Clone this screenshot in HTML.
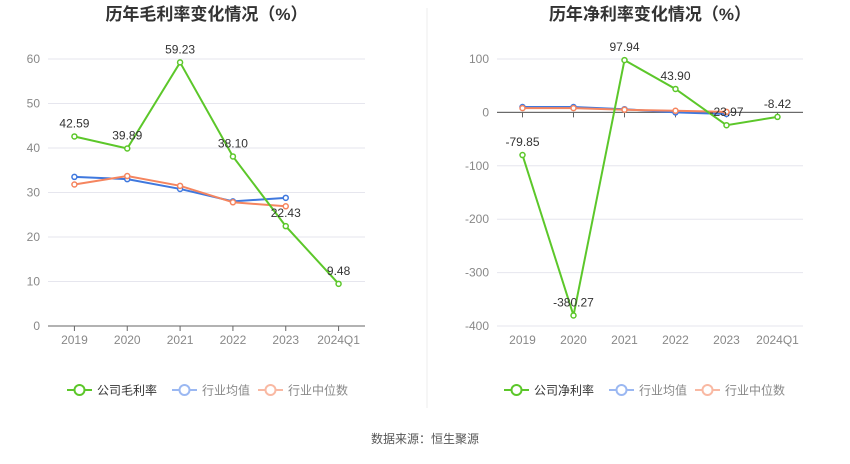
<!DOCTYPE html>
<html><head><meta charset="utf-8">
<style>
body{margin:0;background:#fff;width:850px;height:459px;overflow:hidden;font-family:"Liberation Sans","Noto Sans CJK SC",sans-serif}
svg text{font-family:"Liberation Sans","Noto Sans CJK SC",sans-serif}
</style></head>
<body>
<svg id="c" width="850" height="459">
<line x1="427" y1="8" x2="427" y2="408" stroke="#eee"/>
<text x="425" y="443" font-size="12" fill="#555" text-anchor="middle">数据来源：恒生聚源</text>
</svg>
<script>
const categories=["2019","2020","2021","2022","2023","2024Q1"];
const grossCompany=[42.59,39.89,59.23,38.10,22.43,9.48];
const grossAvg=[33.5,33.0,30.8,28.0,28.8];
const grossMedian=[31.8,33.7,31.5,27.8,26.9];
const grossTicks=[0,10,20,30,40,50,60];
const netCompany=[-79.85,-380.27,97.94,43.90,-23.97,-8.42];
const netAvg=[10,10,6,0,-3];
const netMedian=[8,8,5,3,1];
const netTicks=[-400,-300,-200,-100,0,100];
const NS="http://www.w3.org/2000/svg";
const svg=document.getElementById('c');
function mk(tag,attrs,parent){const e=document.createElementNS(NS,tag);for(const k in attrs)e.setAttribute(k,attrs[k]);(parent||svg).appendChild(e);return e;}
function panel(o){
  const g=mk('g',{});
  
  
  const y=v=>o.y0+(v-o.min)/(o.max-o.min)*(o.y1-o.y0);
  const bw=(o.x1-o.x0)/categories.length;
  const x=i=>o.x0+bw*(i+0.5);
  const t=mk('text',{x:(o.x0+o.x1)/2,y:20,'font-size':17,'font-weight':'bold',fill:'#333','text-anchor':'middle'},g);t.textContent=o.title;
  
  
  o.ticks.forEach(v=>{
    const l=mk('line',{x1:o.x0,x2:o.x1,y1:y(v),y2:y(v),stroke:v===0&&o.zeroAxis?'#666':'#e6e6ee'},g);
    
    
    const tt=mk('text',{x:o.x0-8,y:y(v)+4,'font-size':12,fill:'#888','text-anchor':'end'},g);tt.textContent=v;
    
    
  });
  const ay=o.zeroAxis?y(0):y(o.min);
  const ax=mk('line',{x1:o.x0,x2:o.x1,y1:ay,y2:ay,stroke:'#666'},g);
  
  
  categories.forEach((c,i)=>{
    const tk=mk('line',{x1:x(i),x2:x(i),y1:ay,y2:ay+5,stroke:'#666'},g);
    
    
    const tl=mk('text',{x:x(i),y:y(o.min)+18,'font-size':12,fill:'#888','text-anchor':'middle'},g);tl.textContent=c;
    
    
  });
  function series(vals,color,name,labels){
    const pts=vals.map((v,i)=>x(i)+','+y(v)).join(' ');
    const pl=mk('polyline',{points:pts,fill:'none',stroke:color,'stroke-width':2},g);
    
    
    vals.forEach((v,i)=>{
      const p=mk('circle',{cx:x(i),cy:y(v),r:2.5,fill:'#fff',stroke:color,'stroke-width':1.5},g);
      
      
      if(labels){const lt=mk('text',{x:x(i),y:y(v)-9,'font-size':12,fill:'#333','text-anchor':'middle'},g);lt.textContent=v.toFixed(2);
        
        }
    });
  }
  series(o.avg,'#3f78de','industry-average',false);
  series(o.median,'#f5855f','industry-median',false);
  series(o.company,'#5cc72a','company',true);
  const lx=o.lx,ly=390;
  [[o.legend,'#5cc72a','#333',0],['行业均值','#9bb8f2','#888',o.lg1],['行业中位数','#f9b9a3','#888',o.lg2]].forEach((it,k)=>{
    const lg=mk('g',{},g);
    
    
    const bx=lx+it[3];
    mk('line',{x1:bx,x2:bx+25,y1:ly,y2:ly,stroke:it[1],'stroke-width':2},lg);
    mk('circle',{cx:bx+12.5,cy:ly,r:5,fill:'#fff',stroke:it[1],'stroke-width':2},lg);
    const tx=mk('text',{x:bx+30,y:ly+4.5,'font-size':12,fill:it[2]},lg);tx.textContent=it[0];
  });
}
panel({name:'gross-margin-chart',title:'历年毛利率变化情况（%）',x0:48,x1:365,y0:326,y1:59,min:0,max:60,ticks:grossTicks,company:grossCompany,avg:grossAvg,median:grossMedian,zeroAxis:false,legend:'公司毛利率',lx:67,lg1:105,lg2:191});
panel({name:'net-margin-chart',title:'历年净利率变化情况（%）',x0:497,x1:803,y0:326,y1:59,min:-400,max:100,ticks:netTicks,company:netCompany,avg:netAvg,median:netMedian,zeroAxis:true,legend:'公司净利率',lx:504,lg1:105,lg2:191});
</script>
</body></html>
